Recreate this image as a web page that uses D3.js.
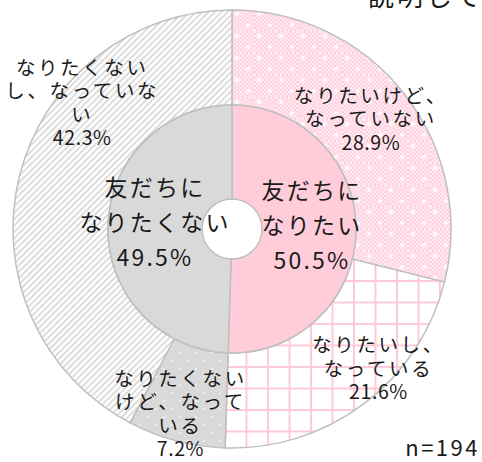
<!DOCTYPE html>
<html>
<head>
<meta charset="utf-8">
<script src="https://cdn.jsdelivr.net/npm/d3@7"></script>
<style>
    body { margin: 0; background: #fff; }
    text { font-family: "Noto Sans CJK JP", "Noto Sans", sans-serif; fill: #1a1a1a; }
</style>
</head>
<body>
<div id="chart"></div>
<script>
// Data
var innerNames = ["友だちに\nなりたい", "友だちに\nなりたくない"];
var innerValues = [50.5, 49.5];
var outerNames = ["なりたいけど、\nなっていない", "なりたいし、\nなっている", "なりたくない\nけど、なって\nいる", "なりたくない\nし、なっていな\nい"];
var outerValues = [28.9, 21.6, 7.2, 42.3];
var sampleLabel = "n=194";

// SVG
var svgWidth = 482;
var svgHeight = 462;
var cx = 232;
var cy = 229;

var svg = d3.select("#chart")
    .append("svg")
    .attr("width", svgWidth)
    .attr("height", svgHeight);

// Patterns
var defs = svg.append("defs");

var pDots = defs.append("pattern")
    .attr("id", "pinkDots")
    .attr("patternUnits", "userSpaceOnUse")
    .attr("width", 22)
    .attr("height", 22);
pDots.append("rect").attr("width", 22).attr("height", 22).attr("fill", "#ffd3df");
for (var i = 0; i < 22; i += 2) {
    for (var j = 0; j < 22; j += 2) {
        if ((i + j) % 4 === 0) {
            pDots.append("rect").attr("x", i).attr("y", j).attr("width", 2).attr("height", 2).attr("fill", "#ffe8ef");
        }
    }
}
[[5, 5], [16, 16]].forEach(function (p) {
    pDots.append("path")
        .attr("d", `M${p[0]},${p[1] - 3}L${p[0] + 1},${p[1] - 1}L${p[0] + 3},${p[1]}L${p[0] + 1},${p[1] + 1}L${p[0]},${p[1] + 3}L${p[0] - 1},${p[1] + 1}L${p[0] - 3},${p[1]}L${p[0] - 1},${p[1] - 1}Z`)
        .attr("fill", "#fff");
});

var pGrid = defs.append("pattern")
    .attr("id", "pinkGrid")
    .attr("patternUnits", "userSpaceOnUse")
    .attr("x", 250)
    .attr("y", 266)
    .attr("width", 21.5)
    .attr("height", 21.5);
pGrid.append("rect").attr("width", 21.5).attr("height", 21.5).attr("fill", "#fff");
pGrid.append("rect").attr("width", 2).attr("height", 21.5).attr("fill", "#ffc9d8");
pGrid.append("rect").attr("width", 21.5).attr("height", 2).attr("fill", "#ffc9d8");

var gDots = defs.append("pattern")
    .attr("id", "grayDots")
    .attr("patternUnits", "userSpaceOnUse")
    .attr("width", 16)
    .attr("height", 16);
gDots.append("rect").attr("width", 16).attr("height", 16).attr("fill", "#d9d9d9");
gDots.append("circle").attr("cx", 4).attr("cy", 4).attr("r", 1.1).attr("fill", "#f4f4f4");
gDots.append("circle").attr("cx", 12).attr("cy", 12).attr("r", 1.1).attr("fill", "#f4f4f4");

var stripes = defs.append("pattern")
    .attr("id", "grayStripes")
    .attr("patternUnits", "userSpaceOnUse")
    .attr("width", 4.5)
    .attr("height", 4.5)
    .attr("patternTransform", "rotate(45)");
stripes.append("rect").attr("width", 4.5).attr("height", 4.5).attr("fill", "#fff");
stripes.append("rect").attr("width", 2).attr("height", 4.5).attr("fill", "#dcdcdc");

var innerFills = ["#ffccda", "#d9d9d9"];
var outerFills = ["url(#pinkDots)", "url(#pinkGrid)", "url(#grayDots)", "url(#grayStripes)"];

// Pie
var pie = d3.pie().sort(null).value(d => d);
var innerArc = d3.arc().innerRadius(30).outerRadius(124);
var outerArc = d3.arc().innerRadius(124).outerRadius(219);

var chart = svg.append("g")
    .attr("transform", `translate(${cx}, ${cy})`);

chart.selectAll(".outer")
    .data(pie(outerValues))
    .enter()
    .append("path")
    .attr("class", "outer")
    .attr("d", outerArc)
    .attr("fill", (d, i) => outerFills[i])
    .attr("stroke", "#bfbfbf")
    .attr("stroke-width", 1.5);

chart.selectAll(".inner")
    .data(pie(innerValues))
    .enter()
    .append("path")
    .attr("class", "inner")
    .attr("d", innerArc)
    .attr("fill", (d, i) => innerFills[i])
    .attr("stroke", "#bfbfbf")
    .attr("stroke-width", 1.5);

// Labels (last line is the percent, spaced less)
function drawLabel(x, y, lines, size, gap, spacing, numSpacing) {
    var t = chart.append("text")
        .attr("text-anchor", "middle")
        .style("font-size", size + "px");
    var top = y - (lines.length - 1) * gap / 2;
    lines.forEach(function (line, k) {
        t.append("tspan")
            .attr("x", x)
            .attr("y", top + k * gap)
            .attr("dy", "0.36em")
            .style("letter-spacing", (k === lines.length - 1 ? numSpacing : spacing) + "px")
            .text(line);
    });
}

var innerLabelArc = d3.arc().innerRadius(78).outerRadius(78);
var innerShift = [[2, -5], [1, -5]];
pie(innerValues).forEach(function (d, i) {
    var c = innerLabelArc.centroid(d);
    var lines = innerNames[i].split("\n").concat([d.data.toFixed(1) + "%"]);
    drawLabel(c[0] + innerShift[i][0], c[1] + innerShift[i][1], lines, 23, 35, 2.2, 2.2);
});

var outerLabelArc = d3.arc().innerRadius(175).outerRadius(175);
var outerShift = [[1, -2], [41, 0], [-7, 16], [0, 2]];
pie(outerValues).forEach(function (d, i) {
    var c = outerLabelArc.centroid(d);
    var lines = outerNames[i].split("\n").concat([d.data.toFixed(1) + "%"]);
    if (i === 3) {
        c = d3.arc().innerRadius(197).outerRadius(197).centroid({ startAngle: d.startAngle, endAngle: d.startAngle + (d.endAngle - d.startAngle) * 1.35 });
    }
    drawLabel(c[0] + outerShift[i][0], c[1] + outerShift[i][1], lines, 19.5, 23.5, 2.6, 0.6);
});

// Sample size
svg.append("text")
    .attr("x", 480)
    .attr("y", 456)
    .attr("text-anchor", "end")
    .style("font-size", "22px")
    .style("letter-spacing", "2.5px")
    .text(sampleLabel);

// Clipped header text
svg.append("text")
    .attr("x", 368)
    .attr("y", 6)
    .style("font-size", "26px")
    .style("letter-spacing", "3px")
    .text("説明して");
</script>
</body>
</html>
